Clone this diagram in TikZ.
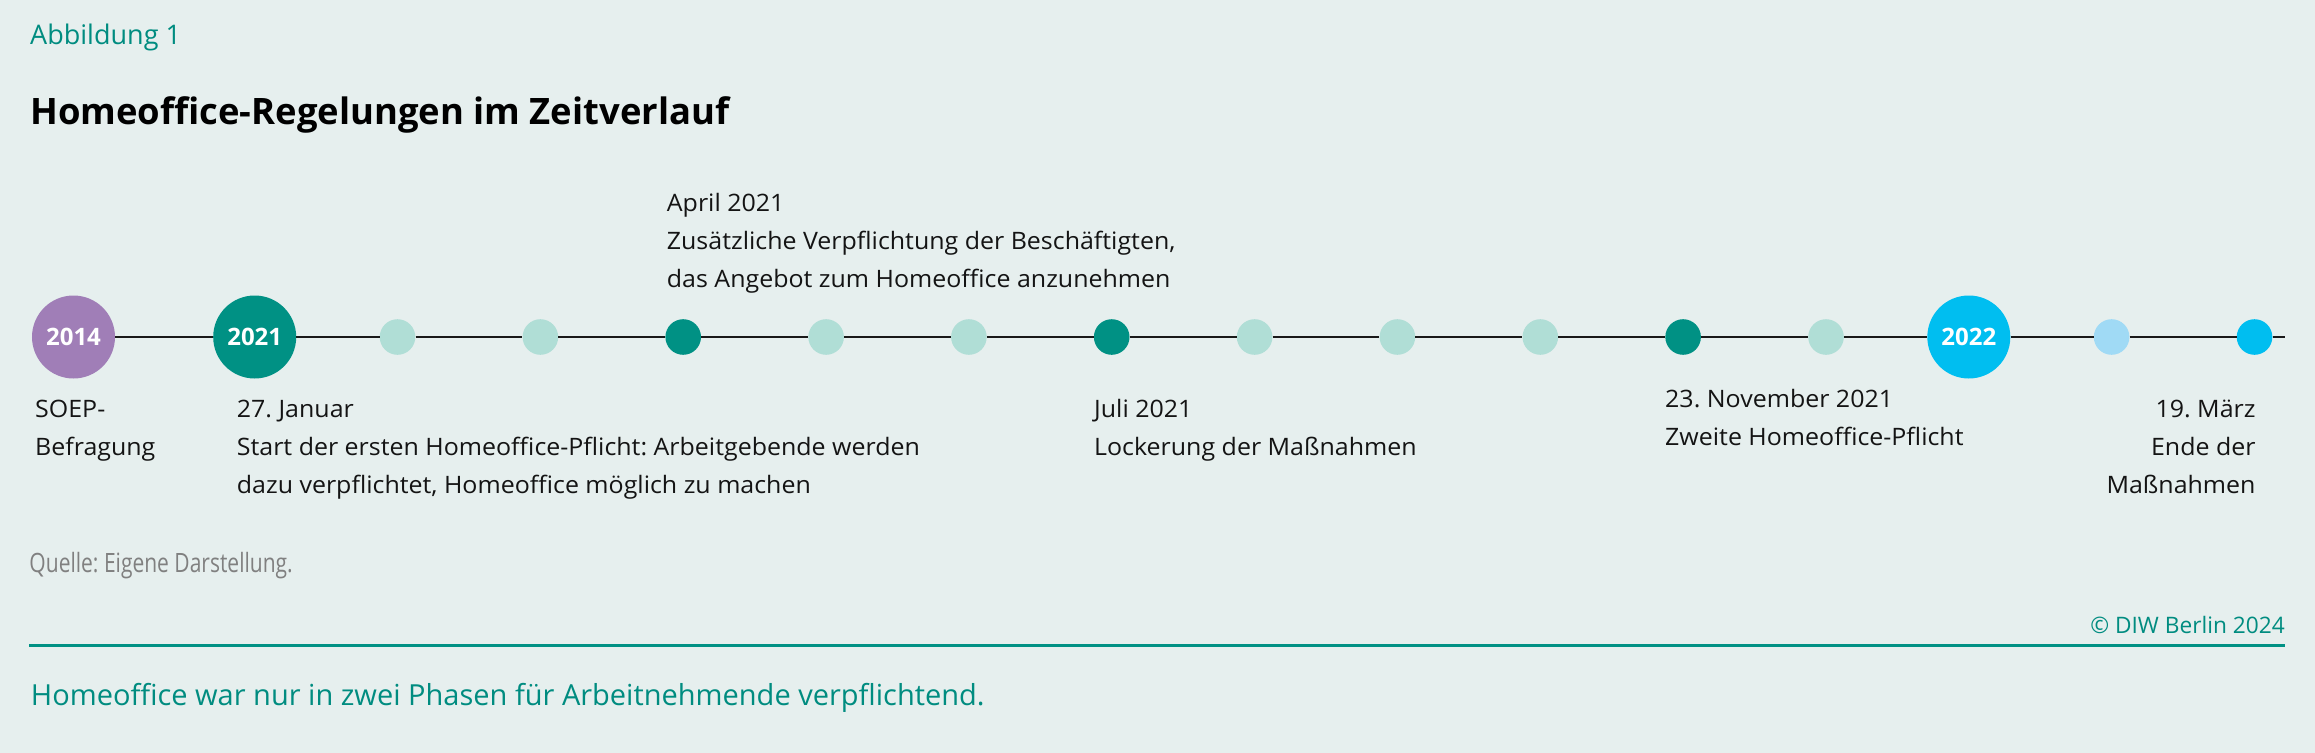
\documentclass[tikz,border=0pt]{standalone}
\usepackage{fontspec}
\setmainfont{Open Sans}
\newfontfamily\condfont[FakeStretch=0.79]{Open Sans}
\newfontfamily\bodyfont[FakeStretch=1.04]{Open Sans}
\definecolor{bg}{RGB}{230,239,238}
\definecolor{diwteal}{RGB}{0,145,132}
\definecolor{lteal}{RGB}{176,222,214}
\definecolor{purp}{RGB}{160,126,183}
\definecolor{cyanb}{RGB}{0,190,240}
\definecolor{lblue}{RGB}{160,218,245}
\definecolor{tealtext}{RGB}{0,140,128}
\definecolor{graytext}{RGB}{128,128,128}
\definecolor{linec}{RGB}{25,25,25}
\definecolor{bodytext}{RGB}{20,20,20}
\frenchspacing
\begin{document}
\begin{tikzpicture}[x=1bp,y=-1bp,
  big/.style={circle,minimum size=83bp,inner sep=0pt,font=\fontsize{24bp}{24bp}\selectfont\bfseries,text=white},
  dot/.style={circle,minimum size=35.6bp,inner sep=0pt},
  lbl/.style={font=\bodyfont\fontsize{24bp}{37.8bp}\selectfont,text=bodytext,inner sep=0pt,align=left,anchor=base west},
  lblr/.style={lbl,align=right,anchor=base east},
  tl/.style={line width=2bp,draw=linec}]
\useasboundingbox[fill=bg] (0,0) rectangle (2315,753);
% header
\node[anchor=base west,inner sep=0pt,text=tealtext,font=\fontsize{27bp}{30bp}\selectfont] (abb) at (30,44.3) {Abbildung 1};
\node[anchor=base west,inner sep=0pt,font=\fontsize{36.4bp}{40bp}\selectfont\bfseries] (title) at (30,124.3) {Homeoffice-Regelungen im Zeitverlauf};
% timeline nodes
\node[big,fill=purp] (y14) at (73.5,337) {2014};
\node[big,fill=diwteal] (y21) at (254.7,337) {2021};
\node[dot,fill=lteal] (d1) at (397.5,337) {};
\node[dot,fill=lteal] (d2) at (540.4,337) {};
\node[dot,fill=diwteal] (d3) at (683.2,337) {};
\node[dot,fill=lteal] (d4) at (826.1,337) {};
\node[dot,fill=lteal] (d5) at (968.9,337) {};
\node[dot,fill=diwteal] (d6) at (1111.7,337) {};
\node[dot,fill=lteal] (d7) at (1254.6,337) {};
\node[dot,fill=lteal] (d8) at (1397.4,337) {};
\node[dot,fill=lteal] (d9) at (1540.3,337) {};
\node[dot,fill=diwteal] (d10) at (1683.1,337) {};
\node[dot,fill=lteal] (d11) at (1826.0,337) {};
\node[big,fill=cyanb] (y22) at (1968.8,337) {2022};
\node[dot,fill=lblue] (d13) at (2111.6,337) {};
\node[dot,fill=cyanb] (d14) at (2254.5,337) {};
\coordinate (lend) at (2285,337);
\foreach \a/\b in {y14/y21,y21/d1,d1/d2,d2/d3,d3/d4,d4/d5,d5/d6,d6/d7,d7/d8,d8/d9,d9/d10,d10/d11,d11/y22,y22/d13,d13/d14,d14/lend}
  \draw[tl] (\a) -- (\b);
% labels (anchor at baseline of last line)
\node[lbl] (l14) at (35,455.3) {SOEP-\\Befragung};
\node[lbl] (l21) at (236.7,493.3) {27. Januar\\Start der ersten Homeoffice-Pflicht: Arbeitgebende werden\\dazu verpflichtet, Homeoffice möglich zu machen};
\node[lbl] (lapr) at (666.7,287.3) {April 2021\\Zusätzliche Verpflichtung der Beschäftigten,\\das Angebot zum Homeoffice anzunehmen};
\node[lbl] (ljul) at (1094,455.3) {Juli 2021\\Lockerung der Maßnahmen};
\node[lbl] (lnov) at (1665,445.3) {23. November 2021\\Zweite Homeoffice-Pflicht};
\node[lblr] (lmar) at (2255.7,493.3) {19. März\\Ende der\\Maßnahmen};
% footer
\node[anchor=base west,inner sep=0pt,text=graytext,font=\condfont\fontsize{26.6bp}{30bp}\selectfont] (src) at (29.3,572.3) {Quelle: Eigene Darstellung.};
\node[anchor=base east,inner sep=0pt,text=tealtext,font=\fontsize{22.7bp}{26bp}\selectfont] (copy) at (2285,633.3) {© DIW Berlin 2024};
\coordinate (rl) at (29.3,645.3);
\coordinate (rr) at (2285,645.3);
\draw[diwteal,line width=2.5bp] (rl) -- (rr);
\node[anchor=base west,inner sep=0pt,text=tealtext,font=\fontsize{29bp}{34bp}\selectfont] (note) at (30.7,705.7) {Homeoffice war nur in zwei Phasen für Arbeitnehmende verpflichtend.};
\end{tikzpicture}
\end{document}
